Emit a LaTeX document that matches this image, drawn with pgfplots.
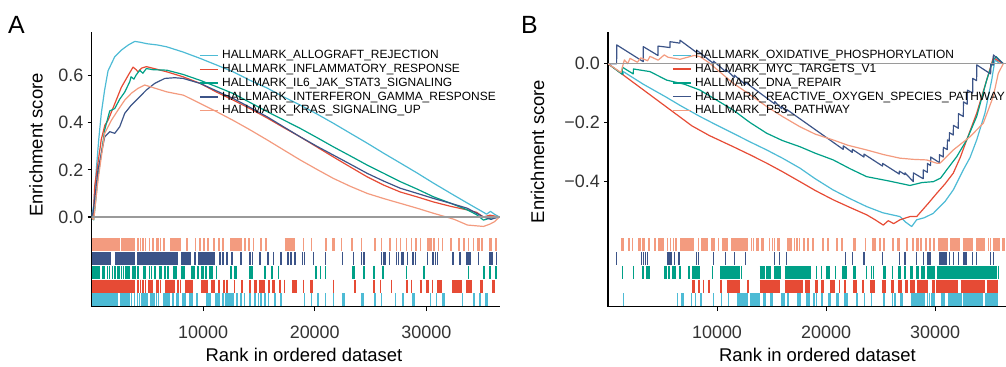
\documentclass[border=0pt]{standalone}
\usepackage{pgfplots}
\pgfplotsset{compat=1.18}
\usepackage{fontspec}
\setmainfont{Liberation Sans}
\definecolor{npgred}{HTML}{E64B35}
\definecolor{npgcyan}{HTML}{4DBBD5}
\definecolor{npggreen}{HTML}{00A087}
\definecolor{npgblue}{HTML}{3C5488}
\definecolor{npgpink}{HTML}{F39B7F}
\definecolor{zline}{HTML}{9A9A9A}
\definecolor{ticklab}{HTML}{333333}
\pgfplotsset{
  gseatop/.style={scale only axis, height=206bp,
    axis x line=none, axis y line*=left,
    axis line style={-, line width=1.1bp, black},
    xtick=\empty, tick align=outside, major tick length=4bp,
    tick style={line width=1.1bp, black},
    yticklabel style={font=\fontsize{18}{20}\selectfont, text=ticklab, inner sep=0pt, xshift=-4bp},
    legend cell align=left,
    legend image code/.code={\draw[##1, line width=1.5bp] (0bp,0bp) -- (18bp,0bp);},
    legend style={draw=none, fill=none, inner sep=0pt, outer sep=0pt, row sep=3.15bp, column sep=0pt,
      font=\fontsize{12}{14}\selectfont,
      nodes={inner xsep=3.5bp, inner ysep=0pt, text height=8.6bp, text depth=2bp}},
  },
  gsearug/.style={scale only axis, height=68.7bp, ymin=0, ymax=5,
    axis x line*=bottom, axis y line*=left,
    axis line style={-, line width=1.1bp, black},
    ytick=\empty, xtick={10000,20000,30000}, xticklabels={10000,20000,30000},
    scaled x ticks=false,
    tick align=outside, major tick length=4.5bp,
    tick style={line width=1.1bp, black},
    xticklabel style={font=\fontsize{18}{20}\selectfont, text=ticklab, inner sep=0pt, yshift=-15bp},
    unbounded coords=jump, clip=false},
  curve/.style={line width=1.2bp, line join=round},
  blk/.style={line width=13bp, line cap=butt},
  tck/.style={only marks, mark=|, mark size=6.5bp, mark options={line width=1.5bp}},
}
\begin{document}
\begin{tikzpicture}
\useasboundingbox (0,0) rectangle (1006bp,367bp);
% ---------------- Panel A: running enrichment score ----------------
\begin{axis}[gseatop, at={(91.5bp,129bp)}, anchor=south west, width=408.5bp,
  xmin=0, xmax=36600, ymin=-0.089, ymax=0.785,
  ytick={0,0.2,0.4,0.6}, yticklabels={0.0,0.2,0.4,0.6},
  legend style={at={(axis cs:9643,0.7074)}, anchor=north west}]
\addplot[curve, npgcyan] coordinates {(0,0) (200,0.05) (430,0.20) (650,0.33) (879,0.44) (1180,0.54) (1480,0.62) (2081,0.68) (2673,0.708) (3300,0.73) (3875,0.745) (4300,0.742) (5000,0.735) (5900,0.73) (6745,0.722) (8200,0.70) (9732,0.673) (11200,0.645) (12693,0.616) (14200,0.58) (15742,0.547) (17200,0.51) (18702,0.475) (20200,0.437) (21662,0.398) (23200,0.355) (24712,0.313) (26200,0.27) (27672,0.229) (29200,0.186) (30632,0.144) (32200,0.10) (33682,0.059) (35117,0.02) (35400,0.012) (35745,0.024) (36100,0.012) (36552,0)};
\addlegendentry{HALLMARK\_ALLOGRAFT\_REJECTION}
\addplot[curve, npgred] coordinates {(0,0) (150,-0.01) (287,0.13) (879,0.33) (1200,0.39) (1480,0.41) (2081,0.48) (2673,0.55) (3274,0.60) (3723,0.636) (4000,0.625) (4171,0.616) (4500,0.632) (4916,0.638) (5600,0.63) (6745,0.616) (8200,0.595) (9732,0.567) (11200,0.53) (12693,0.496) (14200,0.46) (15742,0.42) (17200,0.38) (18702,0.34) (20200,0.297) (21662,0.255) (23200,0.212) (24712,0.17) (26200,0.135) (27672,0.106) (29200,0.085) (30632,0.064) (32200,0.045) (33682,0.03) (34500,0.02) (35117,0.0) (35700,0.008) (36552,0)};
\addlegendentry{HALLMARK\_INFLAMMATORY\_RESPONSE}
\addplot[curve, npggreen] coordinates {(0,0) (200,-0.012) (583,0.17) (1184,0.37) (1633,0.45) (2081,0.46) (2530,0.50) (2978,0.53) (3427,0.574) (3543,0.595) (3800,0.585) (3992,0.602) (4324,0.623) (4600,0.61) (4916,0.63) (5500,0.625) (6745,0.623) (8200,0.605) (9732,0.58) (11200,0.553) (12693,0.524) (14200,0.486) (15742,0.447) (17200,0.412) (18702,0.376) (20200,0.337) (21662,0.298) (23200,0.259) (24712,0.22) (26200,0.185) (27672,0.15) (29200,0.118) (30632,0.086) (32200,0.058) (33682,0.03) (34500,0.01) (35117,-0.013) (35700,-0.005) (36552,0)};
\addlegendentry{HALLMARK\_IL6\_JAK\_STAT3\_SIGNALING}
\addplot[curve, npgblue] coordinates {(0,0) (150,0.02) (583,0.2) (1184,0.34) (1633,0.362) (2081,0.355) (2530,0.383) (2978,0.44) (3570,0.475) (4171,0.503) (4916,0.539) (5669,0.567) (6566,0.588) (7463,0.591) (8208,0.588) (9732,0.567) (11200,0.535) (12693,0.503) (14200,0.465) (15742,0.425) (17200,0.383) (18702,0.34) (20200,0.30) (21662,0.263) (23200,0.224) (24712,0.185) (26200,0.152) (27672,0.122) (29200,0.10) (30632,0.079) (32200,0.058) (33682,0.037) (35117,0.0) (35800,-0.01) (36100,-0.005) (36552,0)};
\addlegendentry{HALLMARK\_INTERFERON\_GAMMA\_RESPONSE}
\addplot[curve, npgpink] coordinates {(0,0) (200,-0.01) (583,0.157) (1184,0.355) (1776,0.41) (2377,0.454) (2978,0.496) (3570,0.525) (4171,0.546) (4772,0.56) (5247,0.553) (6745,0.531) (8234,0.517) (9732,0.482) (11200,0.447) (12693,0.41) (14200,0.37) (15742,0.327) (17200,0.285) (18702,0.242) (20200,0.202) (21662,0.164) (23200,0.13) (24712,0.10) (26200,0.078) (27672,0.058) (29200,0.037) (30632,0.016) (31800,0.0) (32500,-0.01) (33682,-0.034) (35117,-0.04) (35700,-0.03) (36100,-0.02) (36552,0)};
\addlegendentry{HALLMARK\_KRAS\_SIGNALING\_UP}
\addplot[forget plot, zline, line width=1.5bp] coordinates {(0,0) (36600,0)};
\end{axis}
% ---------------- Panel A: hit rug ----------------
\begin{axis}[gsearug, at={(91.5bp,60.3bp)}, anchor=south west, width=408.5bp, xmin=0, xmax=36600]
% pink
\addplot[blk, npgpink] coordinates {(0,4.5)(2527,4.5)(0,nan)(2676,4.5)(3932,4.5)(0,nan)(4111,4.5)(4231,4.5)(0,nan)(5128,4.5)(5247,4.5)(0,nan)(5815,4.5)(6025,4.5)(0,nan)(7012,4.5)(8058,4.5)(0,nan)(9254,4.5)(9404,4.5)(0,nan)(10898,4.5)(11048,4.5)(0,nan)(12424,4.5)(13470,4.5)(0,nan)(15503,4.5)(15713,4.5)(0,nan)(17297,4.5)(18194,4.5)(0,nan)(20945,4.5)(21095,4.5)(0,nan)(21543,4.5)(21842,4.5)(0,nan)(25311,4.5)(25520,4.5)(0,nan)(26656,4.5)(26806,4.5)(0,nan)(28151,4.5)(28301,4.5)(0,nan)(28988,4.5)(29198,4.5)(0,nan)(30095,4.5)(30483,4.5)(0,nan)(34580,4.5)(34789,4.5)(0,nan)(35626,4.5)(35866,4.5)};
\addplot[tck, npgpink] coordinates {(4410,4.5)(4620,4.5)(4829,4.5)(5517,4.5)(6204,4.5)(6503,4.5)(8566,4.5)(9703,4.5)(10091,4.5)(10450,4.5)(11407,4.5)(11796,4.5)(13769,4.5)(14128,4.5)(14517,4.5)(15204,4.5)(19002,4.5)(19689,4.5)(22380,4.5)(23337,4.5)(24174,4.5)(25998,4.5)(27314,4.5)(27703,4.5)(28689,4.5)(29497,4.5)(30693,4.5)(31081,4.5)(31440,4.5)(32188,4.5)(32935,4.5)(33384,4.5)(33773,4.5)(34221,4.5)(34977,4.5)(36250,4.5)};
% blue
\addplot[blk, npgblue] coordinates {(0,3.5)(1779,3.5)(0,nan)(2078,3.5)(3872,3.5)(0,nan)(4111,3.5)(7759,3.5)(0,nan)(8058,3.5)(8955,3.5)(0,nan)(9553,3.5)(11048,3.5)};
\addplot[tck, npgblue] coordinates {(9254,3.5)(11496,3.5)(11796,3.5)(12125,3.5)(12573,3.5)(13410,3.5)(14218,3.5)(14427,3.5)(15115,3.5)(15802,3.5)(16311,3.5)(16998,3.5)(17596,3.5)(17895,3.5)(18254,3.5)(18911,3.5)(19091,3.5)(19899,3.5)(20945,3.5)(22500,3.5)(23487,3.5)(24174,3.5)(24414,3.5)(25998,3.5)(26148,3.5)(26297,3.5)(26716,3.5)(27314,3.5)(27493,3.5)(27792,3.5)(27912,3.5)(28301,3.5)(28809,3.5)(29048,3.5)(30095,3.5)(30603,3.5)(30800,3.5)(30991,3.5)(32397,3.5)(32995,3.5)(33593,3.5)(33750,3.5)(33892,3.5)(34669,3.5)(35686,3.5)(35866,3.5)(36284,3.5)};
% green
\addplot[blk, npggreen] coordinates {(0,2.5)(733,2.5)(0,nan)(942,2.5)(1241,2.5)(0,nan)(2317,2.5)(2527,2.5)(0,nan)(3035,2.5)(3424,2.5)(0,nan)(4620,2.5)(4919,2.5)(0,nan)(5607,2.5)(5815,2.5)(0,nan)(6025,2.5)(6324,2.5)(0,nan)(7310,2.5)(7699,2.5)(0,nan)(8058,2.5)(8357,2.5)(0,nan)(8955,2.5)(9254,2.5)(0,nan)(10510,2.5)(10898,2.5)(0,nan)(12812,2.5)(13021,2.5)(0,nan)(14128,2.5)(14427,2.5)(0,nan)(20048,2.5)(20198,2.5)(0,nan)(23337,2.5)(23636,2.5)(0,nan)(25998,2.5)(26208,2.5)};
\addplot[tck, npggreen] coordinates {(1420,2.5)(1630,2.5)(1900,2.5)(2100,2.5)(2700,2.5)(2850,2.5)(3700,2.5)(3900,2.5)(4171,2.5)(5218,2.5)(5370,2.5)(6563,2.5)(6862,2.5)(9553,2.5)(9853,2.5)(10001,2.5)(10250,2.5)(11200,2.5)(12513,2.5)(15563,2.5)(16161,2.5)(16759,2.5)(20497,2.5)(20945,2.5)(24414,2.5)(25311,2.5)(28211,2.5)(29796,2.5)(33773,2.5)(35178,2.5)(35686,2.5)(36224,2.5)};
% red
\addplot[blk, npgred] coordinates {(0,1.5)(3872,1.5)(0,nan)(5068,1.5)(5517,1.5)(0,nan)(6623,1.5)(7520,1.5)(0,nan)(8357,1.5)(9105,1.5)(0,nan)(9853,1.5)(10450,1.5)(0,nan)(10689,1.5)(11048,1.5)(0,nan)(12723,1.5)(12812,1.5)(0,nan)(13410,1.5)(13530,1.5)(0,nan)(14128,1.5)(14307,1.5)(0,nan)(14517,1.5)(14816,1.5)(0,nan)(14965,1.5)(15563,1.5)(0,nan)(15802,1.5)(16012,1.5)(0,nan)(16161,1.5)(16460,1.5)(0,nan)(17955,1.5)(18404,1.5)(0,nan)(19599,1.5)(19809,1.5)(0,nan)(23487,1.5)(23696,1.5)(0,nan)(28151,1.5)(28390,1.5)(0,nan)(29407,1.5)(29646,1.5)(0,nan)(29945,1.5)(30244,1.5)(0,nan)(30991,1.5)(31440,1.5)(0,nan)(32337,1.5)(33174,1.5)(0,nan)(33593,1.5)(34071,1.5)(0,nan)(34789,1.5)(35088,1.5)(0,nan)(35866,1.5)(36164,1.5)};
\addplot[tck, npgred] coordinates {(4171,1.5)(4410,1.5)(4620,1.5)(4829,1.5)(5815,1.5)(5965,1.5)(6204,1.5)(7759,1.5)(7960,1.5)(11407,1.5)(11886,1.5)(12125,1.5)(16908,1.5)(17297,1.5)(19002,1.5)(21693,1.5)(25311,1.5)(25908,1.5)(26895,1.5)(28689,1.5)(30543,1.5)};
% cyan
\addplot[blk, npgcyan] coordinates {(0,0.5)(2377,0.5)(0,nan)(2527,0.5)(3424,0.5)(0,nan)(5218,0.5)(5666,0.5)(0,nan)(6413,0.5)(7012,0.5)(0,nan)(9404,0.5)(9553,0.5)(0,nan)(10300,0.5)(10750,0.5)(0,nan)(11108,0.5)(11496,0.5)(0,nan)(11975,0.5)(12723,0.5)(0,nan)(14128,0.5)(14307,0.5)(0,nan)(14517,0.5)(14726,0.5)(0,nan)(16311,0.5)(16520,0.5)(0,nan)(20198,0.5)(20347,0.5)(0,nan)(22440,0.5)(22739,0.5)(0,nan)(24264,0.5)(24414,0.5)(0,nan)(25311,0.5)(25460,0.5)(0,nan)(28689,0.5)(28988,0.5)(0,nan)(31440,0.5)(31679,0.5)(0,nan)(34191,0.5)(34370,0.5)(0,nan)(35267,0.5)(35566,0.5)};
\addplot[tck, npgcyan] coordinates {(3573,0.5)(3872,0.5)(4111,0.5)(4300,0.5)(4470,0.5)(4620,0.5)(4800,0.5)(4980,0.5)(5815,0.5)(6025,0.5)(7310,0.5)(7610,0.5)(7760,0.5)(8200,0.5)(8360,0.5)(8820,0.5)(9000,0.5)(11796,0.5)(13021,0.5)(13410,0.5)(13700,0.5)(14965,0.5)(15204,0.5)(15563,0.5)(15862,0.5)(16998,0.5)(19091,0.5)(19689,0.5)(20945,0.5)(21693,0.5)(24174,0.5)(25998,0.5)(27254,0.5)(27912,0.5)(30394,0.5)(30902,0.5)(33234,0.5)(34789,0.5)};
\end{axis}
% ---------------- Panel B: running enrichment score ----------------
\begin{axis}[gseatop, at={(608bp,129bp)}, anchor=south west, width=398bp,
  xmin=0, xmax=36500, ymin=-0.594, ymax=0.108,
  ytick={-0.4,-0.2,0}, yticklabels={−0.4,−0.2,0.0},
  legend style={at={(axis cs:5869,0.046)}, anchor=north west}]
\addplot[curve, npgcyan] coordinates {(0,0) (1400,-0.038) (1410,-0.027) (3237,-0.07) (5383,-0.115) (6600,-0.142) (8436,-0.18) (10000,-0.21) (11463,-0.237) (13000,-0.266) (14553,-0.294) (16000,-0.322) (17606,-0.356) (19000,-0.392) (20633,-0.43) (22200,-0.46) (23723,-0.487) (25200,-0.508) (26774,-0.521) (27300,-0.54) (27849,-0.555) (28307,-0.532) (29000,-0.525) (29830,-0.51) (30142,-0.498) (30900,-0.47) (31664,-0.43) (32581,-0.362) (33200,-0.32) (33810,-0.26) (34571,-0.168) (35186,-0.056) (35488,0.013) (35946,0)};
\addlegendentry{HALLMARK\_OXIDATIVE\_PHOSPHORYLATION}
\addplot[curve, npgred] coordinates {(0,0) (3851,-0.106) (7700,-0.212) (9300,-0.245) (11490,-0.283) (13000,-0.31) (14553,-0.339) (16000,-0.368) (17606,-0.402) (19000,-0.432) (20660,-0.464) (22200,-0.49) (23723,-0.515) (24500,-0.532) (25245,-0.55) (25700,-0.535) (26200,-0.545) (26774,-0.532) (27691,-0.521) (28307,-0.521) (29372,-0.476) (30142,-0.442) (30900,-0.41) (31664,-0.373) (32300,-0.32) (32893,-0.26) (33810,-0.169) (34727,-0.056) (35331,0.02) (36249,0)};
\addlegendentry{HALLMARK\_MYC\_TARGETS\_V1}
\addplot[curve, npggreen] coordinates {(0,0) (1310,-0.036) (1320,-0.012) (2320,-0.035) (2330,-0.018) (3851,-0.027) (5383,-0.056) (7000,-0.07) (8436,-0.09) (10000,-0.125) (11490,-0.158) (13000,-0.2) (14553,-0.237) (16000,-0.262) (17606,-0.283) (19000,-0.305) (20660,-0.328) (22200,-0.358) (23723,-0.385) (25800,-0.4) (27691,-0.415) (28800,-0.405) (29830,-0.402) (30500,-0.39) (31058,-0.362) (31976,-0.317) (32893,-0.26) (33810,-0.18) (34727,-0.056) (35331,0.013) (35600,0.024) (36249,0)};
\addlegendentry{HALLMARK\_DNA\_REPAIR}
\addplot[curve, npgblue] coordinates {(0,0) (790,0) (800,0.064) (3230,0.007) (3240,0.058) (4580,0.028) (4590,0.06) (5680,0.055) (5690,0.075) (6590,0.07) (6600,0.08) (8130,0.038) (8140,0.046) (9660,0.001) (9670,0.009) (10790,-0.027) (10800,-0.019) (11580,-0.047) (11590,-0.039) (12590,-0.071) (12600,-0.063) (15280,-0.137) (15290,-0.129) (15920,-0.153) (15930,-0.145) (16380,-0.164) (16390,-0.156) (21570,-0.292) (21580,-0.28) (22400,-0.302) (22410,-0.292) (23470,-0.318) (23480,-0.308) (25180,-0.349) (25190,-0.34) (26710,-0.376) (26720,-0.366) (27230,-0.378) (27240,-0.372) (27997,-0.402) (28005,-0.372) (28905,-0.392) (28915,-0.362) (29285,-0.37) (29295,-0.34) (29585,-0.347) (29595,-0.318) (30385,-0.337) (30395,-0.31) (30745,-0.318) (30755,-0.285) (31115,-0.293) (31125,-0.26) (31300,-0.264) (31310,-0.235) (31665,-0.243) (31675,-0.21) (32125,-0.22) (32135,-0.17) (32585,-0.18) (32595,-0.13) (32950,-0.138) (32960,-0.09) (33440,-0.1) (33450,-0.05) (33805,-0.058) (33815,-0.004) (35090,-0.035) (35100,0.0) (35330,-0.005) (35340,0.03) (36249,0)};
\addlegendentry{HALLMARK\_REACTIVE\_OXYGEN\_SPECIES\_PATHWAY}
\addplot[curve, npgpink] coordinates {(0,0) (1190,-0.03) (1500,0.013) (1800,0.0) (2020,0.018) (2700,0.005) (3000,0.02) (3630,0.01) (3850,0.025) (4600,0.012) (5160,0.03) (5500,0.022) (6600,0.015) (7900,0.028) (8436,0.024) (9200,0.005) (10000,-0.02) (11490,-0.067) (13000,-0.105) (14553,-0.146) (16000,-0.18) (17606,-0.215) (19000,-0.24) (20660,-0.26) (22000,-0.278) (23723,-0.294) (25300,-0.31) (26774,-0.322) (28000,-0.326) (29225,-0.328) (30142,-0.339) (30444,-0.339) (31664,-0.294) (33195,-0.249) (34415,-0.203) (35331,-0.112) (35791,-0.033) (36249,0.0)};
\addlegendentry{HALLMARK\_P53\_PATHWAY}
\addplot[forget plot, zline, line width=1.5bp] coordinates {(0,0) (36500,0)};
\end{axis}
% ---------------- Panel B: hit rug ----------------
\begin{axis}[gsearug, at={(608bp,60.3bp)}, anchor=south west, width=398bp, xmin=0, xmax=36500]
% pink
\addplot[blk, npgpink] coordinates {(1192,4.5)(1498,4.5)(0,nan)(1804,4.5)(2018,4.5)(0,nan)(2782,4.5)(3027,4.5)(0,nan)(3149,4.5)(3393,4.5)(0,nan)(3638,4.5)(3852,4.5)(0,nan)(4249,4.5)(4372,4.5)(0,nan)(4616,4.5)(5166,4.5)(0,nan)(5380,4.5)(5533,4.5)(0,nan)(6603,4.5)(7918,4.5)(0,nan)(8529,4.5)(9202,4.5)(0,nan)(9446,4.5)(9813,4.5)(0,nan)(10425,4.5)(11036,4.5)(0,nan)(11280,4.5)(12838,4.5)(0,nan)(13602,4.5)(13816,4.5)(0,nan)(14061,4.5)(14305,4.5)(0,nan)(15528,4.5)(15742,4.5)(0,nan)(16445,4.5)(16873,4.5)(0,nan)(17882,4.5)(18035,4.5)(0,nan)(18708,4.5)(18891,4.5)(0,nan)(20939,4.5)(21092,4.5)(0,nan)(22468,4.5)(22773,4.5)(0,nan)(23537,4.5)(23690,4.5)(0,nan)(24178,4.5)(24575,4.5)(0,nan)(25187,4.5)(25401,4.5)(0,nan)(26012,4.5)(26226,4.5)(0,nan)(26532,4.5)(26776,4.5)(0,nan)(27327,4.5)(27541,4.5)(0,nan)(27846,4.5)(28060,4.5)(0,nan)(28244,4.5)(28549,4.5)(0,nan)(29069,4.5)(29283,4.5)(0,nan)(29833,4.5)(29986,4.5)(0,nan)(30292,4.5)(31209,4.5)(0,nan)(31362,4.5)(32279,4.5)(0,nan)(32523,4.5)(33501,4.5)(0,nan)(33746,4.5)(34571,4.5)(0,nan)(35336,4.5)(35948,4.5)(0,nan)(36100,4.5)(36406,4.5)};
\addplot[tck, npgpink] coordinates {(2232,4.5)(5730,4.5)(5990,4.5)(6250,4.5)(8285,4.5)(10120,4.5)(13150,4.5)(13350,4.5)(14830,4.5)(15070,4.5)(15250,4.5)(17100,4.5)(17350,4.5)(17580,4.5)(18360,4.5)(19716,4.5)(20175,4.5)(21459,4.5)(24950,4.5)(28700,4.5)(29550,4.5)(34880,4.5)(35100,4.5)};
% blue
\addplot[blk, npgblue] coordinates {(5380,3.5)(5839,3.5)(0,nan)(29283,3.5)(29589,3.5)(0,nan)(30383,3.5)(31117,3.5)(0,nan)(32584,3.5)(32951,3.5)};
\addplot[tck, npgblue] coordinates {(795,3.5)(3088,3.5)(3250,3.5)(3454,3.5)(3638,3.5)(6084,3.5)(6512,3.5)(8132,3.5)(8285,3.5)(9660,3.5)(10791,3.5)(11586,3.5)(12594,3.5)(15284,3.5)(15742,3.5)(16353,3.5)(21764,3.5)(22406,3.5)(23476,3.5)(25187,3.5)(26715,3.5)(27235,3.5)(28305,3.5)(28916,3.5)(31300,3.5)(31667,3.5)(32126,3.5)(33440,3.5)(33807,3.5)(35091,3.5)(35336,3.5)};
% green
\addplot[blk, npggreen] coordinates {(3088,2.5)(3332,2.5)(0,nan)(3454,2.5)(3852,2.5)(0,nan)(5166,2.5)(5380,2.5)(0,nan)(5839,2.5)(6206,2.5)(0,nan)(7734,2.5)(8437,2.5)(0,nan)(10272,2.5)(12106,2.5)(0,nan)(13908,2.5)(14367,2.5)(0,nan)(14520,2.5)(14978,2.5)(0,nan)(15223,2.5)(15895,2.5)(0,nan)(16201,2.5)(18646,2.5)(0,nan)(20022,2.5)(20328,2.5)(0,nan)(20787,2.5)(20939,2.5)(0,nan)(21459,2.5)(21948,2.5)(0,nan)(22468,2.5)(22773,2.5)(0,nan)(25187,2.5)(25492,2.5)(0,nan)(26012,2.5)(26165,2.5)(0,nan)(26623,2.5)(26837,2.5)(0,nan)(27693,2.5)(28000,2.5)(0,nan)(28244,2.5)(28549,2.5)(0,nan)(29222,2.5)(29986,2.5)(0,nan)(30139,2.5)(35642,2.5)};
\addplot[tck, npggreen] coordinates {(1315,2.5)(2323,2.5)(5600,2.5)(6603,2.5)(7429,2.5)(9568,2.5)(12250,2.5)(19105,2.5)(19564,2.5)(23690,2.5)(24178,2.5)(24331,2.5)(27235,2.5)(28800,2.5)(29000,2.5)(35794,2.5)};
% red
\addplot[blk, npgred] coordinates {(7734,1.5)(7979,1.5)(0,nan)(10883,1.5)(12106,1.5)(0,nan)(13908,1.5)(15742,1.5)(0,nan)(16201,1.5)(17882,1.5)(0,nan)(18035,1.5)(18494,1.5)(0,nan)(18952,1.5)(19258,1.5)(0,nan)(19564,1.5)(19808,1.5)(0,nan)(20328,1.5)(20787,1.5)(0,nan)(21642,1.5)(21856,1.5)(0,nan)(22468,1.5)(22865,1.5)(0,nan)(24025,1.5)(24484,1.5)(0,nan)(25095,1.5)(25492,1.5)(0,nan)(25920,1.5)(26226,1.5)(0,nan)(26623,1.5)(26929,1.5)(0,nan)(27235,1.5)(27541,1.5)(0,nan)(27693,1.5)(28152,1.5)(0,nan)(28305,1.5)(29375,1.5)(0,nan)(29680,1.5)(29986,1.5)(0,nan)(30078,1.5)(32126,1.5)(0,nan)(32340,1.5)(34571,1.5)(0,nan)(34725,1.5)(35794,1.5)};
\addplot[tck, npgred] coordinates {(8346,1.5)(8743,1.5)(9262,1.5)(10364,1.5)(12838,1.5)(21245,1.5)(23385,1.5)};
% cyan
\addplot[blk, npgcyan] coordinates {(6297,0.5)(6451,0.5)(0,nan)(6695,0.5)(6970,0.5)(0,nan)(8437,0.5)(8651,0.5)(0,nan)(10364,0.5)(10486,0.5)(0,nan)(11800,0.5)(12838,0.5)(0,nan)(12990,0.5)(13908,0.5)(0,nan)(14214,0.5)(14520,0.5)(0,nan)(14826,0.5)(15132,0.5)(0,nan)(15895,0.5)(16201,0.5)(0,nan)(17362,0.5)(17668,0.5)(0,nan)(18188,0.5)(18494,0.5)(0,nan)(19564,0.5)(19716,0.5)(0,nan)(20175,0.5)(20481,0.5)(0,nan)(21642,0.5)(22009,0.5)(0,nan)(22773,0.5)(22926,0.5)(0,nan)(25187,0.5)(25401,0.5)(0,nan)(26776,0.5)(27021,0.5)(0,nan)(27754,0.5)(29069,0.5)(0,nan)(30506,0.5)(30903,0.5)(0,nan)(31209,0.5)(32432,0.5)(0,nan)(32584,0.5)(34418,0.5)(0,nan)(34571,0.5)(35794,0.5)};
\addplot[tck, npgcyan] coordinates {(1406,0.5)(7673,0.5)(8040,0.5)(9660,0.5)(11036,0.5)(16500,0.5)(18890,0.5)(19105,0.5)(21000,0.5)(21150,0.5)(23537,0.5)(24178,0.5)(26100,0.5)(26300,0.5)(29300,0.5)(29500,0.5)(29700,0.5)(29900,0.5)};
\end{axis}
% ---------------- titles ----------------
\node[rotate=90, font=\fontsize{18.5}{20}\selectfont] at (36bp,222bp) {Enrichment score};
\node[rotate=90, font=\fontsize{18.5}{20}\selectfont] at (537.5bp,215.5bp) {Enrichment score};
\node[anchor=base, inner sep=0pt, font=\fontsize{18.5}{20}\selectfont] at (304bp,6bp) {Rank in ordered dataset};
\node[anchor=base, inner sep=0pt, font=\fontsize{18.5}{20}\selectfont] at (817.5bp,6bp) {Rank in ordered dataset};
\node[anchor=base west, inner sep=0pt, font=\fontsize{25}{28}\selectfont] at (8bp,333.7bp) {A};
\node[anchor=base west, inner sep=0pt, font=\fontsize{25}{28}\selectfont] at (521bp,333.7bp) {B};
\end{tikzpicture}
\end{document}
